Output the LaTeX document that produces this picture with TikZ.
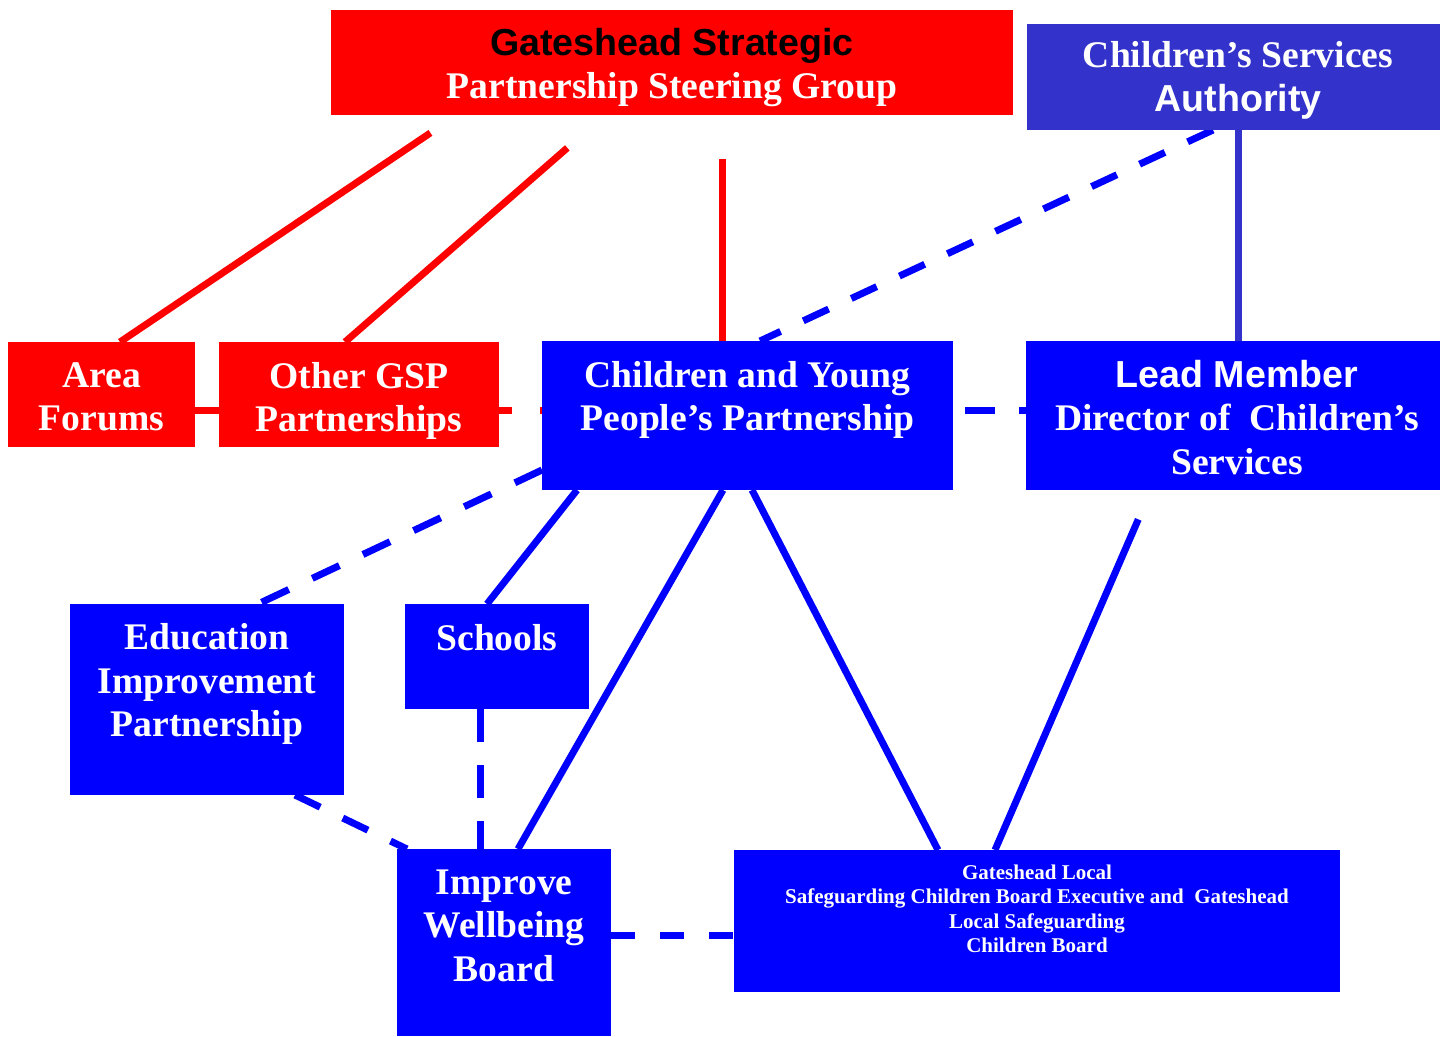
\documentclass[tikz,border=0pt]{standalone}
\usepackage{fontspec}
\setmainfont{Liberation Serif}
\newfontfamily\arialf{Liberation Sans}
\usetikzlibrary{calc}
\definecolor{gred}{RGB}{255,0,0}
\definecolor{gblue}{RGB}{0,0,255}
\definecolor{cblue}{RGB}{51,51,204}
\begin{document}
\begin{tikzpicture}[x=1pt,y=-1pt,
  boxbase/.style={inner sep=0pt, outer sep=0pt, anchor=north west, draw=none},
  redbox/.style={boxbase, fill=gred},
  bluebox/.style={boxbase, fill=gblue},
  csabox/.style={boxbase, fill=cblue},
  lbl/.style={text=white, font=\fontsize{37.6}{43.5}\selectfont\bfseries, align=center, anchor=north, inner sep=0pt},
  smalllbl/.style={lbl, font=\fontsize{21}{24.5}\selectfont\bfseries},
  redline/.style={draw=gred, line width=7pt},
  reddash/.style={redline, dash pattern=on 13pt off 28pt},
  blueline/.style={draw=gblue, line width=7pt},
  csaline/.style={draw=cblue, line width=7pt},
  bluedash/.style={draw=gblue, line width=7pt, dash pattern=on 28pt off 25pt}
]
\useasboundingbox (0,0) rectangle (1440,1036);
\fill[white] (0,0) rectangle (1440,1036);

% boxes
\node[redbox, minimum width=682pt, minimum height=105pt] (gsp) at (331,10) {};
\node[csabox, minimum width=413pt, minimum height=106pt] (csa) at (1027,24) {};
\node[redbox, minimum width=187pt, minimum height=105pt] (area) at (8,342) {};
\node[redbox, minimum width=280pt, minimum height=105pt] (other) at (219,342) {};
\node[bluebox, minimum width=411pt, minimum height=149pt] (cypp) at (542,341) {};
\node[bluebox, minimum width=414pt, minimum height=149pt] (lead) at (1026,341) {};
\node[bluebox, minimum width=274pt, minimum height=191pt] (eip) at (70,604) {};
\node[bluebox, minimum width=184pt, minimum height=105pt] (schools) at (405,604) {};
\node[bluebox, minimum width=214pt, minimum height=187pt] (iwb) at (397,849) {};
\node[bluebox, minimum width=606pt, minimum height=142pt] (glscb) at (734,850) {};

% connectors
\draw[redline, shorten <=32pt] ($(gsp.south west)+(126,0)$) -- ($(area.north west)+(112,0)$);
\draw[redline, shorten <=50pt] ($(gsp.south west)+(274,0)$) -- ($(other.north west)+(126,0)$);
\draw[redline, shorten <=44pt] ($(gsp.south west)+(391,0)$) -- ($(cypp.north west)+(180,0)$);
\draw[redline] ($(area.east)+(0,15.5)$) -- ($(other.west)+(0,15.5)$);
\draw[reddash] ($(other.east)+(0,15.5)$) -- ($(cypp.west)+(0,-5.5)$);

\draw[bluedash] ($(csa.south west)+(186,0)$) -- ($(cypp.north west)+(218,0)$);
\draw[csaline] ($(csa.south west)+(211,0)$) -- ($(lead.north west)+(212,0)$);
\draw[bluedash, dash pattern=on 30pt off 24pt, dash phase=42pt] ($(cypp.east)+(0,-5.5)$) -- ($(lead.west)+(0,-5.5)$);

\draw[bluedash, dash pattern=on 30pt off 26pt] ($(cypp.west)+(0,54.5)$) -- ($(eip.north west)+(188,0)$);
\draw[blueline] ($(cypp.south west)+(35,0)$) -- ($(schools.north west)+(82,0)$);
\draw[blueline] ($(cypp.south west)+(181,0)$) -- ($(iwb.north west)+(121,0)$);
\draw[blueline] ($(cypp.south west)+(210,0)$) -- ($(glscb.north west)+(204,0)$);
\draw[blueline, shorten <=32pt] ($(lead.south west)+(125,0)$) -- ($(glscb.north west)+(261,0)$);

\draw[bluedash, dash pattern=on 33pt off 23pt] ($(schools.south west)+(75,0)$) -- ($(iwb.north west)+(83,0)$);
\draw[bluedash] ($(eip.south west)+(225,0)$) -- ($(iwb.north west)+(10,0)$);
\draw[bluedash, dash pattern=on 24pt off 25pt] ($(iwb.east)+(0,-7.5)$) -- ($(glscb.west)+(0,14)$);

% redraw boxes on top of connector ends
\fill[gred] (gsp.north west) rectangle (gsp.south east);
\fill[cblue] (csa.north west) rectangle (csa.south east);
\fill[gred] (area.north west) rectangle (area.south east);
\fill[gred] (other.north west) rectangle (other.south east);
\fill[gblue] (cypp.north west) rectangle (cypp.south east);
\fill[gblue] (lead.north west) rectangle (lead.south east);
\fill[gblue] (eip.north west) rectangle (eip.south east);
\fill[gblue] (schools.north west) rectangle (schools.south east);
\fill[gblue] (iwb.north west) rectangle (iwb.south east);
\fill[gblue] (glscb.north west) rectangle (glscb.south east);

% labels
\node[lbl] (gspt) at ($(gsp.north)+(0,18)$) {{\color{black}\arialf Gateshead Strategic}\\Partnership Steering Group};
\node[lbl] (csat) at ($(csa.north)+(4.5,17.5)$) {Children’s Services\\{\arialf Authority}};
\node[lbl] (areat) at ($(area.north)+(0,20)$) {Area\\Forums};
\node[lbl] (othert) at ($(other.north)+(0,20)$) {Other GSP\\Partnerships};
\node[lbl] (cyppt) at ($(cypp.north)+(0,20)$) {Children and Young\\People’s Partnership};
\node[lbl] (leadt) at ($(lead.north)+(4,19)$) {{\arialf Lead Member}\\Director of\ \ Children’s\\Services};
\node[lbl] (eipt) at ($(eip.north)+(0,19.5)$) {Education\\Improvement\\Partnership};
\node[lbl] (schoolst) at ($(schools.north)+(0,20)$) {Schools};
\node[lbl] (iwbt) at ($(iwb.north)+(0,20.5)$) {Improve\\Wellbeing\\Board};
\node[smalllbl] (glscbt) at ($(glscb.north)+(0,14.5)$) {Gateshead Local\\Safeguarding Children Board Executive and\ \ Gateshead\\Local Safeguarding\\Children Board};
\end{tikzpicture}
\end{document}
